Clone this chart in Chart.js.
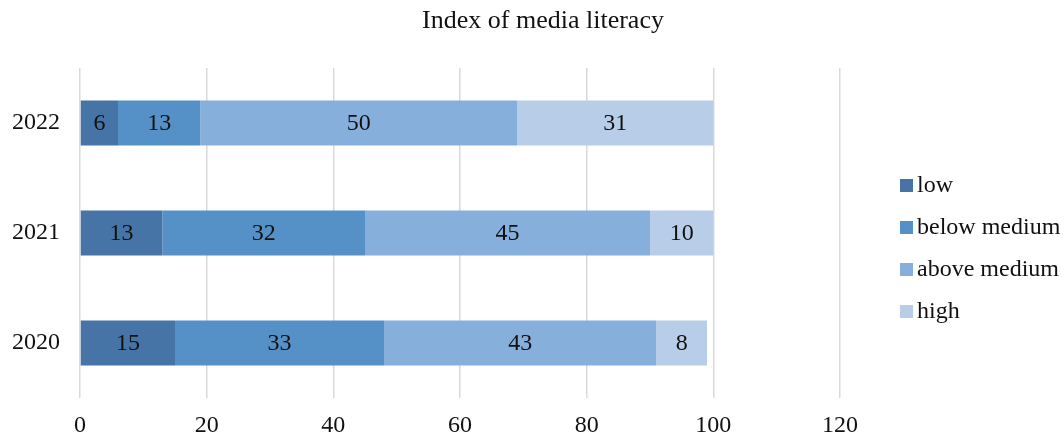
<!DOCTYPE html>
<html>
<head>
<meta charset="utf-8">
<script src="https://cdn.jsdelivr.net/npm/chart.js@4"></script>
<style>
  html, body { margin: 0; padding: 0; background: #fff; }
  #wrap { width: 1064px; height: 439px; position: relative; }
</style>
</head>
<body>
<div id="wrap"><canvas id="c"></canvas></div>
<script>
// Survey years and the share (%) of respondents at each media-literacy level
const years = ['2022', '2021', '2020'];
const low = [6, 13, 15];
const belowMedium = [13, 32, 33];
const aboveMedium = [50, 45, 43];
const high = [31, 10, 8];
const seriesNames = ['low', 'below medium', 'above medium', 'high'];
const xTicks = [0, 20, 40, 60, 80, 100, 120];
const chartTitle = 'Index of media literacy';

const colors = ['#4674a6', '#5591c7', '#86afdb', '#b8cde8'];
const serif = "'Liberation Serif', 'Times New Roman', serif";
const fontSize = 24;

// Writes each segment's value in the middle of its bar
const segmentLabels = {
  id: 'segmentLabels',
  afterDatasetsDraw(chart) {
    const ctx = chart.ctx;
    ctx.save();
    ctx.font = fontSize + 'px ' + serif;
    ctx.fillStyle = '#111';
    ctx.textAlign = 'center';
    ctx.textBaseline = 'middle';
    chart.data.datasets.forEach((ds, i) => {
      chart.getDatasetMeta(i).data.forEach((bar, j) => {
        const p = bar.getProps(['x', 'y', 'base'], true);
        ctx.fillText(String(ds.data[j]), (p.x + p.base) / 2, p.y + 1);
      });
    });
    ctx.restore();
  }
};

// Title centred on the whole canvas, plus a vertical legend right of the plot
const frame = {
  id: 'frame',
  afterDraw(chart) {
    const ctx = chart.ctx;
    const area = chart.chartArea;
    ctx.save();
    ctx.fillStyle = '#111';
    ctx.textAlign = 'center';
    ctx.textBaseline = 'middle';
    ctx.font = '26px ' + serif;
    ctx.fillText(chartTitle, chart.width / 2 + 11, 21);

    const x = area.right + 60;
    const step = 42;
    const n = chart.data.datasets.length;
    const y0 = (area.top + area.bottom) / 2 + 15 - step * (n - 1) / 2;
    ctx.font = '24px ' + serif;
    ctx.textAlign = 'left';
    chart.data.datasets.forEach((ds, i) => {
      const y = y0 + i * step;
      ctx.fillStyle = ds.backgroundColor;
      ctx.fillRect(x, y - 6, 13, 13);
      ctx.fillStyle = '#111';
      ctx.fillText(ds.label, x + 17, y + 1);
    });
    ctx.restore();
  }
};

new Chart(document.getElementById('c'), {
  type: 'bar',
  data: {
    labels: years,
    datasets: [low, belowMedium, aboveMedium, high].map((d, i) => ({
      label: seriesNames[i],
      data: d,
      backgroundColor: colors[i],
      borderWidth: 0,
      barPercentage: 0.41,
      categoryPercentage: 1.0
    }))
  },
  options: {
    indexAxis: 'y',
    responsive: true,
    maintainAspectRatio: false,
    animation: false,
    layout: { padding: { left: 8, right: 224, top: 68, bottom: 0 } },
    scales: {
      x: {
        stacked: true,
        min: 0,
        max: 120,
        afterBuildTicks: (axis) => { axis.ticks = xTicks.map(v => ({ value: v })); },
        afterFit: (axis) => { axis.height = 41; },
        grid: { color: '#d9d9d9', lineWidth: 1.5, drawTicks: false },
        border: { display: false },
        ticks: { color: '#111', font: { family: serif, size: fontSize }, padding: 13, maxRotation: 0 }
      },
      y: {
        stacked: true,
        afterFit: (axis) => { axis.width = 72; },
        grid: { display: false, drawTicks: false },
        border: { display: false },
        ticks: { color: '#111', font: { family: serif, size: fontSize }, padding: 20 }
      }
    },
    plugins: {
      title: { display: false },
      legend: { display: false },
      tooltip: { enabled: false }
    }
  },
  plugins: [segmentLabels, frame]
});
</script>
</body>
</html>
